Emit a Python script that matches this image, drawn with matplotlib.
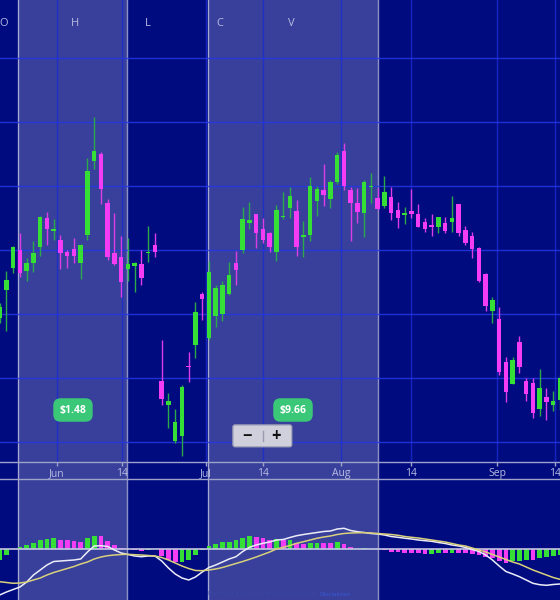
import numpy as np
import matplotlib
matplotlib.use('Agg')
import matplotlib.pyplot as plt
from matplotlib.patches import FancyBboxPatch

plt.rcParams['font.family'] = ['Open Sans', 'DejaVu Sans']

# daily candles (one per trading day)
opens = [47.73, 49.50, 50.86, 52.00, 50.69, 51.21, 52.21, 54.02, 53.21, 52.63,
         51.89, 52.04, 51.21, 52.94, 57.56, 58.00, 54.96, 51.79, 51.58, 50.79,
         51.02, 51.14, 51.79, 52.31, 43.81, 42.31, 40.08, 40.39, 44.77, 46.06,
         49.23, 46.48, 47.89, 48.00, 49.25, 51.17, 52.00, 53.67, 54.23, 53.31,
         53.04, 51.89, 54.04, 54.61, 54.44, 52.83, 52.94, 55.08, 55.75, 55.19,
         56.27, 58.21, 55.75, 54.96, 54.29, 55.92, 55.23, 54.75, 55.33, 54.50,
         54.19, 54.46, 54.25, 53.77, 53.56, 53.46, 53.71, 53.77, 54.88, 53.25,
         52.89, 52.11, 50.48, 48.21, 47.67, 44.98, 43.63, 46.23, 43.83, 43.67,
         42.06, 42.83, 42.31, 42.63]
highs = [48.69, 50.71, 52.25, 53.04, 51.48, 52.56, 54.13, 54.39, 53.92, 52.94,
         52.00, 52.77, 52.36, 57.73, 60.33, 58.14, 55.17, 54.29, 52.88, 52.73,
         51.25, 52.00, 53.50, 53.04, 46.38, 43.04, 42.06, 43.54, 45.61, 48.73,
         49.39, 51.31, 49.81, 50.08, 51.23, 51.94, 54.71, 55.02, 54.25, 53.98,
         53.11, 54.81, 55.64, 55.92, 55.13, 53.81, 56.54, 56.00, 57.36, 56.38,
         58.11, 58.67, 55.96, 55.89, 56.38, 56.83, 55.86, 56.63, 55.92, 55.02,
         54.67, 55.81, 54.88, 53.98, 54.25, 54.08, 54.04, 55.38, 54.90, 53.52,
         53.14, 52.17, 50.54, 49.04, 48.46, 45.29, 45.29, 46.63, 43.98, 43.98,
         44.56, 43.39, 43.19, 44.19]
lows = [47.44, 46.96, 50.54, 50.33, 50.08, 50.61, 51.64, 52.31, 52.63, 50.79,
        50.86, 51.21, 50.19, 52.63, 57.04, 54.86, 51.38, 51.06, 49.04, 50.08,
        49.39, 49.81, 51.27, 51.54, 42.31, 40.86, 39.92, 39.14, 43.77, 45.23,
        47.63, 46.38, 47.21, 47.58, 49.19, 49.81, 51.83, 53.29, 52.14, 52.42,
        51.86, 51.33, 53.92, 54.02, 51.64, 51.58, 52.56, 54.14, 54.77, 54.64,
        56.13, 55.75, 52.56, 53.71, 52.83, 54.96, 54.50, 54.64, 53.88, 53.39,
        53.63, 53.98, 53.42, 53.14, 52.89, 53.04, 53.08, 53.14, 52.88, 52.31,
        51.52, 49.98, 48.21, 47.46, 44.19, 42.48, 43.60, 44.29, 42.56, 41.48,
        41.64, 41.38, 41.96, 42.00]
closes = [48.46, 50.13, 52.17, 50.54, 51.21, 51.83, 54.08, 53.29, 53.31, 51.83,
          51.63, 51.64, 52.31, 56.94, 58.21, 55.79, 51.54, 51.13, 50.02, 51.11,
          51.21, 50.23, 51.88, 51.89, 42.71, 42.56, 41.27, 43.46, 44.67, 48.13,
          48.94, 50.63, 49.64, 49.81, 50.44, 50.75, 53.94, 53.88, 53.04, 52.63,
          52.21, 54.50, 54.13, 55.38, 52.21, 52.94, 56.00, 55.81, 55.44, 56.27,
          57.94, 56.00, 54.92, 54.36, 56.27, 56.00, 54.54, 55.64, 54.29, 54.02,
          54.29, 54.25, 53.46, 53.31, 53.46, 54.04, 53.19, 53.98, 53.08, 52.42,
          52.06, 50.08, 48.52, 48.88, 44.36, 43.14, 45.13, 44.71, 43.00, 41.79,
          43.36, 42.48, 42.56, 44.00]

# MACD panel
macd = [-2.30, -2.15, -2.025, -1.90, -1.65, -1.30, -1.05, -0.80, -0.625, -0.60,
        -0.575, -0.55, -0.50, -0.15, 0.15, 0.165, 0.125, -0.05, -0.20, -0.275,
        -0.35, -0.385, -0.35, -0.35, -0.60, -0.95, -1.25, -1.45, -1.55, -1.40,
        -1.15, -0.925, -0.80, -0.65, -0.50, -0.385, -0.125, 0.085, 0.20, 0.285,
        0.35, 0.45, 0.475, 0.575, 0.665, 0.725, 0.775, 0.825, 0.875, 0.90,
        1.00, 1.035, 0.925, 0.865, 0.825, 0.775, 0.75, 0.70, 0.625, 0.585,
        0.54, 0.50, 0.45, 0.415, 0.385, 0.325, 0.275, 0.20, 0.15, 0.075,
        -0.025, -0.125, -0.30, -0.55, -0.85, -1.125, -1.25, -1.385, -1.55, -1.715,
        -1.785, -1.815, -1.775, -1.75]
signal = [-1.635, -1.675, -1.715, -1.70, -1.65, -1.55, -1.45, -1.30, -1.175, -1.075,
          -0.975, -0.875, -0.75, -0.65, -0.50, -0.40, -0.335, -0.30, -0.275, -0.265,
          -0.285, -0.30, -0.325, -0.35, -0.425, -0.55, -0.70, -0.85, -0.975, -1.075,
          -1.085, -1.05, -1.00, -0.925, -0.825, -0.725, -0.625, -0.515, -0.40, -0.275,
          -0.15, 0.00, 0.085, 0.175, 0.285, 0.365, 0.45, 0.535, 0.60, 0.65,
          0.725, 0.775, 0.80, 0.81, 0.815, 0.80, 0.775, 0.75, 0.725, 0.685,
          0.625, 0.585, 0.55, 0.50, 0.45, 0.40, 0.35, 0.275, 0.20, 0.15,
          0.05, -0.05, -0.15, -0.275, -0.40, -0.525, -0.65, -0.75, -0.90, -1.05,
          -1.175, -1.30, -1.425, -1.515]
hist = [-0.55, -0.30, -0.02, 0.085, 0.20, 0.30, 0.45, 0.50, 0.55, 0.465,
        0.435, 0.385, 0.335, 0.55, 0.665, 0.635, 0.40, 0.20, 0.05, 0.02,
        -0.05, -0.085, -0.025, -0.015, -0.335, -0.55, -0.635, -0.625, -0.55, -0.30,
        -0.025, 0.15, 0.25, 0.35, 0.365, 0.435, 0.55, 0.635, 0.60, 0.55,
        0.45, 0.50, 0.435, 0.45, 0.285, 0.25, 0.315, 0.325, 0.31, 0.30,
        0.35, 0.235, 0.085, 0.025, 0.035, 0.015, 0.005, -0.025, -0.135, -0.165,
        -0.185, -0.215, -0.22, -0.24, -0.225, -0.21, -0.215, -0.19, -0.20, -0.21,
        -0.23, -0.30, -0.385, -0.435, -0.585, -0.685, -0.60, -0.585, -0.55, -0.565,
        -0.465, -0.385, -0.35, -0.30]

tick_labels = ['Jun', '14', 'Jul', '14', 'Aug', '14', 'Sep', '14']
tick_pos = [8.49, 18.12, 30.56, 39.0, 50.56, 60.93, 73.67, 82.27]
bands = [(2.76, 18.81), (30.9, 56.0)]
band_changes = ['$1.48', '$9.66']
header_keys = ['O', 'H', 'L', 'C', 'V']

BG = '#010b80'
GREEN = '#36df36'
PINK = '#f43cf4'
GREEN_WICK = '#2aa84a'
PINK_WICK = '#dc3ce4'
TXT = '#b8bce2'
AXLINE = '#9ea2c8'

fig = plt.figure(figsize=(5.6, 6), dpi=100, facecolor=BG)
xlim = (0.3 / 6.75, 560.3 / 6.75)

# background layer: shaded periods over the full height
ax_bg = fig.add_axes([0, 0, 1, 1], zorder=0)
ax_bg.set_xlim(xlim)
ax_bg.set_ylim(0, 1)
ax_bg.axis('off')
for a, b in bands:
    ax_bg.axvspan(a, b, color='white', alpha=0.22, lw=0)
    ax_bg.axvline(a, color='white', alpha=0.55, lw=1)
    ax_bg.axvline(b, color='white', alpha=0.55, lw=1)

# price panel
ax = fig.add_axes([0, 138 / 600, 1, 462 / 600], zorder=1)
ax.patch.set_alpha(0)
ax.set_xlim(xlim)
ax.set_ylim(38.75, 67.625)
ax.set_yticks(np.arange(40, 65, 4))
ax.set_xticks(tick_pos)
ax.set_xticklabels(tick_labels)
ax.grid(axis='y', color='#2636e4', lw=1.0, alpha=0.85, zorder=0)
ax.grid(axis='x', color='#1a2bcf', lw=1.0, alpha=0.8, zorder=0)
ax.tick_params(axis='y', left=False, labelleft=False)
ax.tick_params(axis='x', colors=AXLINE, labelcolor=TXT, length=3, width=1,
               pad=1.5, labelsize=7.5)
for s in ['top', 'left', 'right']:
    ax.spines[s].set_visible(False)
ax.spines['bottom'].set_color(AXLINE)
ax.spines['bottom'].set_linewidth(1)

x = np.arange(len(opens))
o = np.array(opens)
c = np.array(closes)
up = c >= o
ax.vlines(x, lows, highs, colors=np.where(up, GREEN_WICK, PINK_WICK), lw=1, zorder=3)
ax.bar(x, np.maximum(np.abs(c - o), 0.08), bottom=np.minimum(o, c), width=0.66,
       color=np.where(up, GREEN, PINK), zorder=4)

# MACD panel
ax2 = fig.add_axes([0, 0, 1, 121 / 600], zorder=1)
ax2.patch.set_alpha(0)
ax2.set_xlim(xlim)
ax2.set_ylim(-2.55, 3.5)
h = np.array(hist)
hcol = [GREEN] + [GREEN if d >= 0 else PINK for d in np.diff(h)]
ax2.bar(x, h, width=0.72, color=hcol, zorder=2)
ax2.axhline(0, color='#c4c6e2', lw=1.2, zorder=3)
ax2.plot(x, macd, color='#ececf8', lw=1.1, zorder=4)
ax2.plot(x, signal, color='#d9d07c', lw=1.1, zorder=4)
ax2.set_xticks([])
ax2.set_yticks([])
for s in ['bottom', 'left', 'right']:
    ax2.spines[s].set_visible(False)
ax2.spines['top'].set_color(AXLINE)
ax2.spines['top'].set_linewidth(1)

# header keys
for k, key in enumerate(header_keys):
    fig.text((3.5 + 72 * k) / 560, 1 - 23 / 600, key, ha='center', va='center',
             color=TXT, fontsize=8)

# change badges
for lab, px in zip(band_changes, [73, 293]):
    fig.text(px / 560, 1 - 410 / 600, lab, ha='center', va='center', color='white',
             fontsize=7.5, fontweight='bold',
             bbox=dict(boxstyle='round,pad=0.6,rounding_size=0.7', fc='#3ac878', ec='none'))

# zoom control
box = FancyBboxPatch((233 / 560, 1 - 446.7 / 600), 58.7 / 560, 21.7 / 600,
                     boxstyle='round,pad=0,rounding_size=0.004', mutation_aspect=560 / 600,
                     transform=fig.transFigure, fc='#cfd0dc', ec='#a6a8ba', lw=1, zorder=5)
fig.add_artist(box)
fig.add_artist(plt.Line2D([263.3 / 560, 263.3 / 560], [1 - 441 / 600, 1 - 431 / 600],
                          transform=fig.transFigure, color='#9a9cae', lw=1, zorder=6))
fig.text(247.5 / 560, 1 - 436 / 600, '\u2212', ha='center', va='center', color='#111111',
         fontsize=12, fontweight='bold', zorder=7)
fig.text(276.5 / 560, 1 - 436 / 600, '+', ha='center', va='center', color='#111111',
         fontsize=12, fontweight='bold', zorder=7)

# footer
fig.text(208 / 560, 1 - 594 / 600, 'Barchart data is 15 min delayed. See', ha='left',
         va='center', color='#3a48a6', fontsize=4.6)
fig.text(319 / 560, 1 - 594 / 600, 'Disclaimer', ha='left', va='center',
         color='#3a5ad8', fontsize=4.6)

fig.savefig('out.png', dpi=100, facecolor=BG)
